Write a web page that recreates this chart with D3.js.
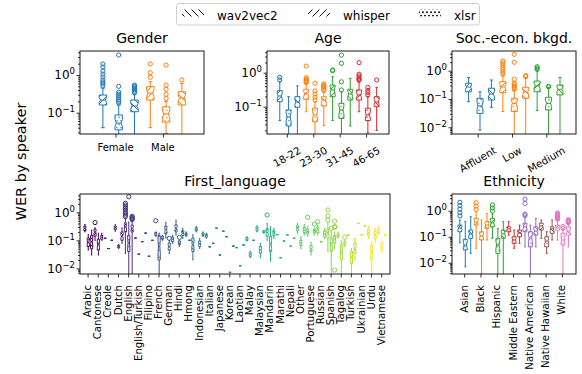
<!DOCTYPE html>
<html lang="en">
<head>
<meta charset="UTF-8">
<title>WER by speaker</title>
<script src="https://cdn.jsdelivr.net/npm/d3@7"></script>
<style>
    body { margin: 0; background: #fff; }
    text { font-family: "DejaVu Sans", sans-serif; fill: #000; }
</style>
</head>
<body>
<svg width="582" height="374"></svg>
<script>
// box = [low whisker, q1, median, q3, high whisker, fliers]  or [single value]
// box order inside each group: whisper, xlsr, wav2vec2
var models = ["wav2vec2", "whisper", "xlsr"];

var genderCats = ["Female", "Male"];
var genderWhisper = [[0.04, 0.16, 0.217, 0.295, 0.45, [0.51, 0.58, 0.65, 0.74, 0.885, 1.06, 1.28, 1.63, 1.96]],
                     [0.04, 0.217, 0.33, 0.49, 0.66, [0.87, 1.15, 1.96]]];
var genderXlsr = [[0.01, 0.035, 0.053, 0.087, 0.16, [0.18, 0.2, 0.22, 0.25, 0.28, 0.31, 0.35, 0.5, 3.4]],
                  [0.028, 0.056, 0.092, 0.144, 0.2, [0.24, 0.31, 0.42, 0.54, 1.84]]];
var genderW2v = [[0.015, 0.106, 0.15, 0.217, 0.3, [0.34, 0.37, 0.4, 0.43, 0.46, 0.5, 0.54]],
                 [0.02, 0.16, 0.245, 0.36, 0.6, [0.74]]];

var ageCats = ["18-22", "23-30", "31-45", "46-65"];
var ageWhisper = [[0.039, 0.14, 0.206, 0.296, 0.54, [0.61, 0.73]],
                  [0.071, 0.165, 0.237, 0.325, 0.49, [0.51, 0.55, 0.6, 0.65, 0.71, 1.57]],
                  [0.039, 0.197, 0.31, 0.434, 0.76, [1.15, 1.2]],
                  [0.071, 0.157, 0.22, 0.31, 0.54, [0.6, 0.65, 0.7, 0.8, 0.9, 1.97]]];
var ageXlsr = [[0.01, 0.027, 0.05, 0.08, 0.197, []],
               [0.01, 0.036, 0.057, 0.09, 0.14, [0.157, 0.19, 0.236, 0.29, 0.49]],
               [0.01, 0.045, 0.08, 0.126, 0.276, [0.31, 0.54, 1.89, 3.3]],
               [0.017, 0.039, 0.057, 0.09, 0.197, [0.22, 0.26, 0.3, 0.37]]];
var ageW2v = [[0.01, 0.096, 0.137, 0.197, 0.41, []],
              [0.028, 0.105, 0.157, 0.197, 0.276, [0.3, 0.33, 0.37, 0.4, 0.43, 0.47]],
              [0.027, 0.157, 0.237, 0.325, 0.68, []],
              [0.02, 0.1, 0.137, 0.197, 0.37, [0.61]]];

var socCats = ["Affluent", "Low", "Medium"];
var socWhisper = [[0.08, 0.18, 0.265, 0.36, 0.58, []],
                  [0.036, 0.167, 0.265, 0.41, 0.7, [0.75, 0.9, 1.1, 1.3, 1.6, 1.9, 2.2]],
                  [0.039, 0.18, 0.29, 0.43, 1.0, [1.12, 1.25, 1.38]]];
var socXlsr = [[0.008, 0.031, 0.057, 0.106, 0.18, []],
               [0.003, 0.036, 0.07, 0.106, 0.2, [0.22, 0.25, 0.28, 0.32, 0.36, 0.5, 1.98, 3.8]],
               [0.003, 0.041, 0.07, 0.115, 0.26, [0.27, 0.28]]];
var socW2v = [[0.051, 0.092, 0.15, 0.24, 0.47, []],
              [0.005, 0.106, 0.176, 0.26, 0.58, [0.62, 0.67]],
              [0.004, 0.14, 0.22, 0.31, 0.58, []]];

var langCats = ["Arabic", "Cantonese", "Creole", "Dutch", "English", "English/Turkish", "Filipino", "French",
                "German", "Hindi", "Hmong", "Indonesian", "Italian", "Japanese", "Korean", "Laotian", "Malay",
                "Malaysian", "Mandarin", "Marathi", "Nepali", "Other", "Portuguese", "Russian", "Spanish",
                "Tagalog", "Turkish", "Ukrainian", "Urdu", "Vietnamese"];
var langWhisper = [[0.2, 0.22, 0.27, 0.32, 0.37], [0.1, 0.14, 0.2, 0.25, 0.28, [0.43]], [0.118],
                   [0.21, 0.24, 0.28, 0.32, 0.37], [0.034, 0.2, 0.3, 0.42, 0.62, [0.7, 0.8, 0.92, 1.05, 1.21, 1.39, 1.58, 1.82, 2.1]],
                   [0.12], [0.18], [0.14, 0.15, 0.17, 0.19, 0.2, [0.5]], [0.12, 0.17, 0.24, 0.32, 0.44],
                   [0.155, 0.2, 0.27, 0.36, 0.53], [0.135, 0.15, 0.165, 0.18, 0.2], [0.2, 0.22, 0.25, 0.28, 0.31],
                   [0.118, 0.13, 0.145, 0.165, 0.18], [0.27], [0.135], [0.055], [0.094, 0.1, 0.11, 0.125, 0.135],
                   [0.2, 0.22, 0.26, 0.3, 0.33], [0.1, 0.14, 0.19, 0.26, 0.4, [0.8]], [0.16], [0.155],
                   [0.18, 0.22, 0.27, 0.33, 0.4], [0.14, 0.17, 0.2, 0.25, 0.32, [0.66]], [0.155, 0.19, 0.24, 0.3, 0.35, [0.46]],
                   [0.04, 0.12, 0.18, 0.25, 0.4, [0.53, 0.74, 1.21]], [0.118, 0.135, 0.15, 0.17, 0.2], [0.155], [0.4],
                   [0.118, 0.15, 0.19, 0.24, 0.31], [0.16, 0.19, 0.22, 0.26, 0.31]];
var langXlsr = [[0.045, 0.06, 0.085, 0.12, 0.16], [0.03, 0.045, 0.07, 0.11, 0.18], [0.051],
                [0.051, 0.055, 0.06, 0.066, 0.072], [0.005, 0.04, 0.08, 0.15, 0.45, [3.6]], [0.032], [0.027],
                [0.005, 0.02, 0.06, 0.15, 0.18], [0.034, 0.045, 0.06, 0.08, 0.1, [0.118]], [0.06, 0.07, 0.08, 0.095, 0.1, [0.128]],
                [0.1], [0.051, 0.06, 0.075, 0.095, 0.118], [0.059], [0.03], [0.0072], [0.0124],
                [0.024, 0.027, 0.031, 0.036, 0.041], [0.024, 0.035, 0.045, 0.06, 0.078], [0.018, 0.04, 0.07, 0.14, 0.31],
                [0.024], [0.062], [0.051, 0.065, 0.08, 0.1, 0.135], [0.03, 0.04, 0.05, 0.065, 0.085], [0.089],
                [0.003, 0.04, 0.07, 0.12, 0.22, [0.27]], [0.004, 0.02, 0.04, 0.07, 0.1], [0.004, 0.015, 0.025, 0.04, 0.051],
                [0.16], [0.004, 0.02, 0.04, 0.065, 0.089], [0.039, 0.048, 0.06, 0.075, 0.089]];
var langW2v = [[0.03, 0.05, 0.09, 0.15, 0.23], [0.1, 0.11, 0.13, 0.15, 0.18], [0.1],
               [0.078, 0.1, 0.14, 0.2, 0.28], [0.005, 0.2, 0.27, 0.35, 0.5, [0.55, 0.6, 0.66, 0.72]], [0.09], [0.1],
               [0.1, 0.11, 0.12, 0.14, 0.15], [0.078, 0.09, 0.11, 0.13, 0.155], [0.118, 0.15, 0.18, 0.22, 0.27],
               [0.02, 0.04, 0.07, 0.12, 0.16], [0.135, 0.15, 0.165, 0.18, 0.2], [0.078], [0.21], [0.062], [0.068],
               [0.1], [0.18, 0.19, 0.2, 0.22, 0.23], [0.118, 0.15, 0.18, 0.22, 0.27], [0.094], [0.118],
               [0.155, 0.19, 0.23, 0.29, 0.37], [0.155, 0.18, 0.2, 0.24, 0.28, [0.38]], [0.118, 0.14, 0.17, 0.21, 0.27],
               [0.05, 0.08, 0.11, 0.15, 0.2, [0.0087, 0.29, 0.31, 0.48]], [0.059, 0.07, 0.08, 0.09, 0.1, [0.128]],
               [0.02, 0.035, 0.05, 0.08, 0.118], [0.33], [0.089, 0.12, 0.16, 0.21, 0.27], [0.155]];

var ethCats = ["Asian", "Black", "Hispanic", "Middle Eastern", "Native American", "Native Hawaiian", "White"];
var ethWhisper = [[0.059, 0.156, 0.216, 0.28, 0.44, [0.63, 0.84, 1.15, 1.6, 2.1]],
                  [0.036, 0.28, 0.37, 0.51, 0.9, [1.13, 1.5, 2.03]],
                  [0.087, 0.24, 0.34, 0.51, 0.75, [0.97, 1.27, 1.66]],
                  [0.116, 0.156, 0.2, 0.24, 0.38, []],
                  [0.041, 0.156, 0.24, 0.33, 0.59, [0.65, 0.75, 1.9, 2.8]],
                  [0.087, 0.18, 0.26, 0.33, 0.44, []],
                  [0.075, 0.18, 0.22, 0.28, 0.44, [0.47, 0.5, 0.53, 0.56, 0.6, 0.64, 0.68, 0.72, 0.77, 0.82]]];
var ethXlsr = [[0.007, 0.031, 0.048, 0.08, 0.38, []],
               [0.004, 0.075, 0.107, 0.156, 0.44, []],
               [0.002, 0.023, 0.048, 0.087, 0.21, []],
               [0.036, 0.056, 0.075, 0.1, 0.18, []],
               [0.002, 0.041, 0.089, 0.156, 0.28, []],
               [0.023, 0.041, 0.068, 0.1, 0.156, []],
               [0.002, 0.048, 0.075, 0.135, 0.19, [0.21, 0.25]]];
var ethW2v = [[0.023, 0.087, 0.127, 0.18, 0.59, []],
              [0.075, 0.21, 0.28, 0.38, 0.79, []],
              [0.002, 0.087, 0.13, 0.18, 0.38, []],
              [0.056, 0.1, 0.14, 0.18, 0.28, []],
              [0.041, 0.116, 0.165, 0.24, 0.5, []],
              [0.075, 0.135, 0.2, 0.24, 0.44, []],
              [0.041, 0.116, 0.165, 0.24, 0.33, [0.35, 0.37, 0.39, 0.41, 0.43, 0.45]]];

var tab10 = ["#1f77b4", "#ff7f0e", "#2ca02c", "#d62728", "#9467bd", "#8c564b", "#e377c2"];
var hatchOf = {wav2vec2: "back", whisper: "fwd", xlsr: "dots"};

var svg = d3.select("svg");
var defs = svg.append("defs");
var made = {};

function hatchFill(color, kind, dot) {
    var id = "h_" + kind + "_" + color.replace(/[^0-9a-z]/gi, "");
    if (!made[id]) {
        made[id] = true;
        var pat = defs.append("pattern").attr("id", id).attr("patternUnits", "userSpaceOnUse");
        if (kind == "dots") {
            pat.attr("width", 4).attr("height", 7);
            pat.append("rect").attr("width", 4).attr("height", 7).attr("fill", "#fff");
            pat.append("circle").attr("cx", 1).attr("cy", 1.75).attr("r", dot || 0.75).attr("fill", color);
            pat.append("circle").attr("cx", 3).attr("cy", 5.25).attr("r", dot || 0.75).attr("fill", color);
        } else {
            pat.attr("width", 7).attr("height", 7);
            pat.append("rect").attr("width", 7).attr("height", 7).attr("fill", "#fff");
            pat.append("path")
                .attr("d", kind == "fwd" ? "M-1,1L1,-1M0,7L7,0M6,8L8,6" : "M-1,6L1,8M0,0L7,7M6,-1L8,1")
                .attr("stroke", color).attr("stroke-width", 1);
        }
    }
    return "url(#" + id + ")";
}

function stats(b) {
    if (b.length == 1) return {lo: b[0], q1: b[0], med: b[0], q3: b[0], hi: b[0], fl: []};
    return {lo: b[0], q1: b[1], med: b[2], q3: b[3], hi: b[4], fl: b[5] || []};
}

function drawBox(g, xc, w, b, y, color, kind) {
    var s = stats(b);
    var l = xc - w / 2, r = xc + w / 2;
    var yq1 = y(s.q1), yq3 = y(s.q3), ym = y(s.med);
    var dn = 0.25 * (yq1 - yq3), dw = w * 0.18;

    g.append("line").attr("x1", xc).attr("x2", xc).attr("y1", yq1).attr("y2", y(s.lo))
        .attr("stroke", color).attr("stroke-width", 1);
    g.append("line").attr("x1", xc).attr("x2", xc).attr("y1", yq3).attr("y2", y(s.hi))
        .attr("stroke", color).attr("stroke-width", 1);
    [s.lo, s.hi].forEach(function(v) {
        g.append("line").attr("x1", xc - w / 4).attr("x2", xc + w / 4).attr("y1", y(v)).attr("y2", y(v))
            .attr("stroke", color).attr("stroke-width", 1);
    });

    var pts = [[l, yq1], [r, yq1], [r, ym + dn], [r - dw, ym], [r, ym - dn], [r, yq3],
               [l, yq3], [l, ym - dn], [l + dw, ym], [l, ym + dn]];
    g.append("path").attr("d", "M" + pts.join("L") + "Z")
        .attr("fill", hatchFill(color, kind))
        .attr("stroke", color).attr("stroke-width", 1);
    g.append("line").attr("x1", l + dw).attr("x2", r - dw).attr("y1", ym).attr("y2", ym)
        .attr("stroke", color).attr("stroke-width", 1);

    g.selectAll(null).data(s.fl).enter().append("circle")
        .attr("cx", xc).attr("cy", function(v) { return y(v); }).attr("r", 2.1)
        .attr("fill", "none").attr("stroke", color).attr("stroke-width", 1);
}

function yTickLabel(g, x, y, e) {
    var t = g.append("text").attr("x", x).attr("y", y + 4.3)
        .attr("text-anchor", "end").attr("font-size", 12);
    t.append("tspan").text("10");
    t.append("tspan").attr("dy", -5).attr("font-size", 8.5).text(e < 0 ? "\u2212" + (-e) : e);
}

function panel(p, idx) {
    var g = svg.append("g");
    var n = p.cats.length * 3;
    var x = d3.scaleLinear().domain([-1.45, n + 0.4]).range([p.x0, p.x1]);
    var y = d3.scaleLog().domain(p.ylim).range([p.y1, p.y0]);
    var w = (x(1) - x(0)) * p.bw;

    // log ticks
    var lo = Math.floor(Math.log10(p.ylim[0])), hi = Math.ceil(Math.log10(p.ylim[1]));
    var majors = [], minors = [];
    for (var e = lo; e <= hi; e++) {
        var v = Math.pow(10, e);
        if (v >= p.ylim[0] && v <= p.ylim[1]) majors.push(e);
        for (var k = 2; k < 10; k++) {
            var mv = k * v;
            if (mv >= p.ylim[0] && mv <= p.ylim[1]) minors.push(mv);
        }
    }
    var ax = g.append("g").attr("transform", "translate(" + p.x0 + ",0)")
        .call(d3.axisLeft(y).tickValues(majors.map(function(e) { return Math.pow(10, e); }))
            .tickSize(3.5).tickSizeOuter(0).tickFormat(""));
    var axm = g.append("g").attr("transform", "translate(" + p.x0 + ",0)")
        .call(d3.axisLeft(y).tickValues(minors).tickSize(2).tickSizeOuter(0).tickFormat(""));
    majors.forEach(function(e) { yTickLabel(g, p.x0 - 5, y(Math.pow(10, e)), e); });

    var tickPos = p.cats.map(function(c, i) { return x(3 * i + 0.8); });
    var axx = g.append("g").attr("transform", "translate(0," + p.y1 + ")")
        .call(d3.axisBottom(x).tickValues(p.cats.map(function(c, i) { return 3 * i + 0.8; }))
            .tickSize(3.5).tickSizeOuter(0).tickFormat(""));
    [ax, axm, axx].forEach(function(a) {
        a.select(".domain").remove();
        a.selectAll("line").attr("stroke", "#000").attr("stroke-width", 0.8);
    });

    p.cats.forEach(function(c, i) {
        var tx = tickPos[i], t;
        if (p.rot == 0) {
            g.append("text").attr("x", tx).attr("y", p.y1 + 17).attr("text-anchor", "middle")
                .attr("font-size", 10).text(c);
        } else if (p.rot == 30) {
            t = g.append("text").attr("text-anchor", "middle").attr("font-size", 10.3)
                .attr("dy", "0.36em").text(c);
            var L = t.node().getComputedTextLength();
            var H = L * 0.5 + 7.5 * 0.866;
            t.attr("transform", "translate(" + tx + "," + (p.y1 + 12 + H / 2) + ") rotate(-30)");
        } else {
            g.append("text").attr("text-anchor", "end").attr("font-size", 10.2)
                .attr("transform", "translate(" + (tx + 3.6) + "," + (p.y1 + 11) + ") rotate(-90)")
                .text(c);
        }
    });

    var cid = "clip" + idx;
    defs.append("clipPath").attr("id", cid).append("rect")
        .attr("x", p.x0).attr("y", p.y0).attr("width", p.x1 - p.x0).attr("height", p.y1 - p.y0);
    var plot = g.append("g").attr("clip-path", "url(#" + cid + ")");

    p.cats.forEach(function(c, i) {
        var color = p.color(i);
        p.series.forEach(function(s, m) {
            drawBox(plot, x(3 * i + m), w, s.data[i], y, color, hatchOf[s.model]);
        });
    });

    g.append("rect").attr("x", p.x0).attr("y", p.y0)
        .attr("width", p.x1 - p.x0).attr("height", p.y1 - p.y0)
        .attr("fill", "none").attr("stroke", "#000").attr("stroke-width", 0.9);

    g.append("text").attr("x", (p.x0 + p.x1) / 2).attr("y", p.y0 - 8.5)
        .attr("text-anchor", "middle").attr("font-size", 14).text(p.title);
}

function tabColor(i) { return tab10[i]; }
function viridis(i) { return d3.interpolateViridis(i / (langCats.length - 1)); }

function trio(wh, xl, w2) {
    return [{model: "whisper", data: wh}, {model: "xlsr", data: xl}, {model: "wav2vec2", data: w2}];
}

var panels = [
    {title: "Gender", cats: genderCats, series: trio(genderWhisper, genderXlsr, genderW2v),
     x0: 80, x1: 204, y0: 51, y1: 134, ylim: [0.0272, 4.34], bw: 0.47, rot: 0, color: tabColor},
    {title: "Age", cats: ageCats, series: trio(ageWhisper, ageXlsr, ageW2v),
     x0: 267, x1: 389, y0: 51, y1: 134, ylim: [0.0157, 4.35], bw: 0.56, rot: 30, color: tabColor},
    {title: "Soc.-econ. bkgd.", cats: socCats, series: trio(socWhisper, socXlsr, socW2v),
     x0: 452, x1: 576, y0: 51, y1: 134, ylim: [0.0058, 4.97], bw: 0.53, rot: 30, color: tabColor},
    {title: "First_language", cats: langCats, series: trio(langWhisper, langXlsr, langW2v),
     x0: 80, x1: 390, y0: 194, y1: 274, ylim: [0.0063, 4.5], bw: 0.65, rot: 90, color: viridis},
    {title: "Ethnicity", cats: ethCats, series: trio(ethWhisper, ethXlsr, ethW2v),
     x0: 452, x1: 576, y0: 194, y1: 274, ylim: [0.0037, 4.39], bw: 0.72, rot: 90, color: tabColor}
];
panels.forEach(panel);

svg.append("text").attr("text-anchor", "middle").attr("font-size", 14.5)
    .attr("transform", "translate(25.5,161.5) rotate(-90)").text("WER by speaker");

// legend
var leg = svg.append("g");
leg.append("rect").attr("x", 176.5).attr("y", 3.5).attr("width", 303).attr("height", 21.5).attr("rx", 2.5)
    .attr("fill", "#fff").attr("stroke", "#d0d0d0").attr("stroke-width", 1);
var legX = [182, 308, 419];
models.forEach(function(m, i) {
    leg.append("rect").attr("x", legX[i]).attr("y", 9.5).attr("width", 22).attr("height", 7)
        .attr("fill", hatchFill("#111", hatchOf[m], 1));
    leg.append("text").attr("x", legX[i] + 35).attr("y", 19.5).attr("font-size", 12).text(m);
});
</script>
</body>
</html>
